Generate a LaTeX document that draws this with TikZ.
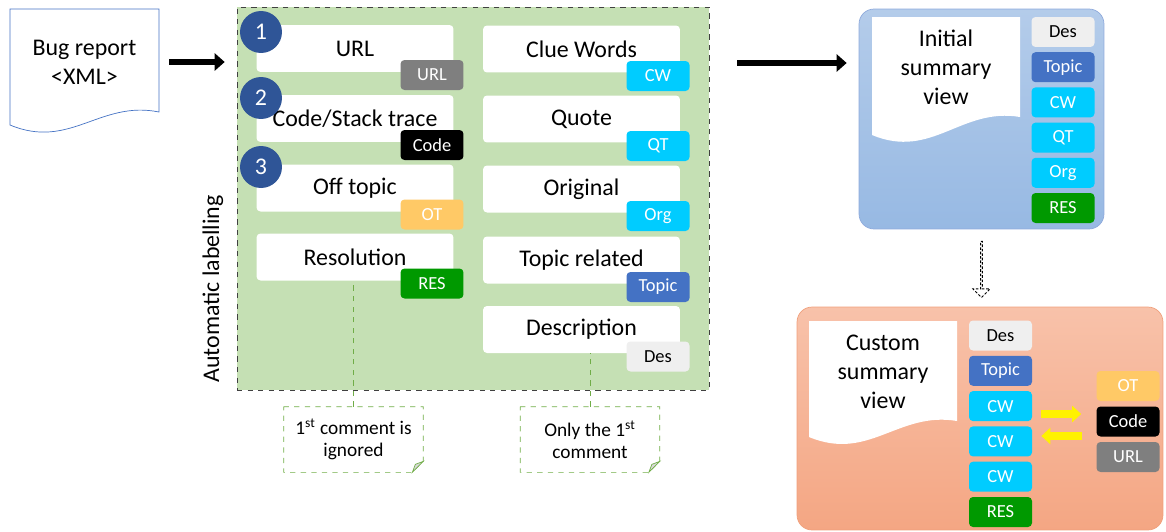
\documentclass[tikz,border=0pt]{standalone}
\usepackage{fontspec}
\setmainfont{Carlito}
\usetikzlibrary{arrows.meta,shapes.arrows}
\definecolor{panelgreen}{HTML}{C5E0B4}
\definecolor{numblue}{HTML}{2F5597}
\definecolor{urlgray}{HTML}{7F7F7F}
\definecolor{otorange}{HTML}{FFC966}
\definecolor{resgreen}{HTML}{009900}
\definecolor{cwcyan}{HTML}{00CCFF}
\definecolor{topicblue}{HTML}{4472C4}
\definecolor{desgray}{HTML}{EFEFEF}
\definecolor{notegreen}{HTML}{70AD47}
\definecolor{viewedge}{HTML}{8FAADC}
\definecolor{viewtop}{HTML}{B4CCEA}
\definecolor{viewbottom}{HTML}{97B9E3}
\definecolor{custtop}{HTML}{F8C2AA}
\definecolor{custbottom}{HTML}{F4A683}
\definecolor{custedge}{HTML}{F0A07C}
\begin{document}
\begin{tikzpicture}[x=0.02cm, y=-0.02cm,
    big font/.style={font=\fontsize{13.6}{16.5}\selectfont},
    text box/.style={fill=white, rounded corners=0.08cm, minimum width=3.94cm, minimum height=0.94cm, inner sep=0pt, big font},
    tag box/.style={rounded corners=0.08cm, minimum width=1.26cm, minimum height=0.6cm, inner sep=0pt, font=\fontsize{10.5}{12}\selectfont},
    num node/.style={circle, fill=numblue, minimum size=0.84cm, inner sep=0pt, text=white, big font},
    view node/.style={rounded corners=0.3cm, inner sep=0pt},
    fat arrow/.style={-{Triangle[length=0.2cm,width=0.34cm]}, line width=3.4pt},
    yellow arrow/.style={-{Triangle[length=0.18cm,width=0.32cm]}, line width=4.5pt, yellow},
    note node/.style={minimum width=2.78cm, minimum height=1.3cm, inner sep=0pt, align=center, font=\fontsize{11}{12.5}\selectfont},
    note line/.style={dashed, notegreen, thin}]
    \useasboundingbox (0,0) rectangle (1166,531);

    \draw[topicblue, fill=white] (10,9) -- (159,9) -- (159,112) .. controls (100,100) and (70,150) .. (10,125) -- cycle;
    \node[minimum width=2.98cm, minimum height=2.12cm, align=center, big font] (bug) at (84.5,62) {Bug report\\<XML>};

    \node[draw=black!75, dashed, fill=panelgreen, minimum width=9.44cm, minimum height=7.66cm, inner sep=0pt] (panel) at (473,198.5) {};
    \node[rotate=90, big font] (auto) at (213,289) {Automatic labelling};
    \draw[fat arrow, shorten <=0.2cm, shorten >=0.24cm] (bug.east) -- (bug.east -| panel.west);

    \foreach \i/\y/\t/\k/\c/\f in {1/48.5/URL/URL/urlgray/white, 2/118.5/Code\slash Stack trace/Code/black/white, 3/188/Off topic/OT/otorange/white, 4/257/Resolution/RES/resgreen/white}{
        \node[text box] (l\i) at (355,\y) {\t};
        \node[tag box, fill=\c, text=\f] (lt\i) at (432,{\y+26.5}) {\k};
    }
    \foreach \i/\y in {1/32, 2/98, 3/167}
        \node[num node] (n\i) at (261,\y) {\i};

    \foreach \i/\y/\t/\k/\c/\f in {1/49/Clue Words/CW/cwcyan/white, 2/119/Quote/QT/cwcyan/white, 3/189/Original/Org/cwcyan/white, 4/260/Topic related/Topic/topicblue/white, 5/329.5/Description/Des/desgray/black}{
        \node[text box] (r\i) at (581.5,\y) {\t};
        \node[tag box, fill=\c, text=\f] (rt\i) at (658,{\y+27}) {\k};
    }

    \node[note node] (c1) at (353.5,439.5) {1\textsuperscript{st} comment is\\ignored};
    \node[note node] (c2) at (590,439.5) {Only the 1\textsuperscript{st}\\comment};
    \foreach \c in {c1,c2}{
        \draw[note line] (\c.north west) -- (\c.north east) -- ([yshift=0.22cm]\c.south east) -- ([xshift=-0.22cm]\c.south east) -- (\c.south west) -- cycle;
        \filldraw[notegreen, fill=black!15] ([yshift=0.22cm]\c.south east) -- ([xshift=-0.22cm]\c.south east) -- ([shift={(-0.16cm,0.16cm)}]\c.south east) -- cycle;
    }
    \draw[note line] (c1.north) -- (c1.north |- l4.south);
    \draw[note line] (c2.north) -- (c2.north |- r5.south);

    \node[view node, minimum width=4.9cm, minimum height=4.4cm, top color=viewtop, bottom color=viewbottom, draw=viewedge] (init) at (981.5,119) {};
    \coordinate (a2) at (737,63);
    \draw[fat arrow, shorten >=0.24cm] (a2) -- (a2 -| init.west);
    \fill[white] (872,17) -- (1020,17) -- (1020,117) .. controls (961,107) and (932,160) .. (872,135) -- cycle;
    \node[align=center, big font] (initview) at (946,67.5) {Initial\\summary\\view};
    \foreach \i/\k/\c/\f in {0/Des/desgray/black, 1/Topic/topicblue/white, 2/CW/cwcyan/white, 3/QT/cwcyan/white, 4/Org/cwcyan/white, 5/RES/resgreen/white}
        \node[tag box, fill=\c, text=\f] (it\i) at (1063,{32+35.2*\i}) {\k};

    \node[single arrow, draw=black, dashed, dash pattern=on 1.5pt off 1pt, fill=white, rotate=-90, minimum height=1.12cm, minimum width=0.34cm, single arrow head extend=0.08cm, inner sep=0pt, line width=0.5pt] (down) at (981.5,269) {};

    \node[view node, minimum width=7.32cm, minimum height=4.46cm, top color=custtop, bottom color=custbottom, draw=custedge] (cust) at (980,418.5) {};
    \fill[white] (809,321) -- (957,321) -- (957,421) .. controls (898,411) and (869,462) .. (809,437) -- cycle;
    \node[align=center, big font] (custview) at (883,371.5) {Custom\\summary\\view};
    \foreach \i/\k/\c/\f in {0/Des/desgray/black, 1/Topic/topicblue/white, 2/CW/cwcyan/white, 3/CW/cwcyan/white, 4/CW/cwcyan/white, 5/RES/resgreen/white}
        \node[tag box, fill=\c, text=\f] (ct\i) at (1000.5,{335.5+35.3*\i}) {\k};
    \foreach \i/\y/\k/\c in {1/386/OT/otorange, 2/421.5/Code/black, 3/457/URL/urlgray}
        \node[tag box, fill=\c, text=white] (k\i) at (1128,\y) {\k};

    \coordinate (ya) at (1041,414);
    \coordinate (yb) at (1082,436);
    \draw[yellow arrow, shorten >=0.3cm] (ya) -- (ya -| k2.west);
    \draw[yellow arrow, shorten >=0.18cm] (yb) -- (yb -| ct3.east);
\end{tikzpicture}
\end{document}
